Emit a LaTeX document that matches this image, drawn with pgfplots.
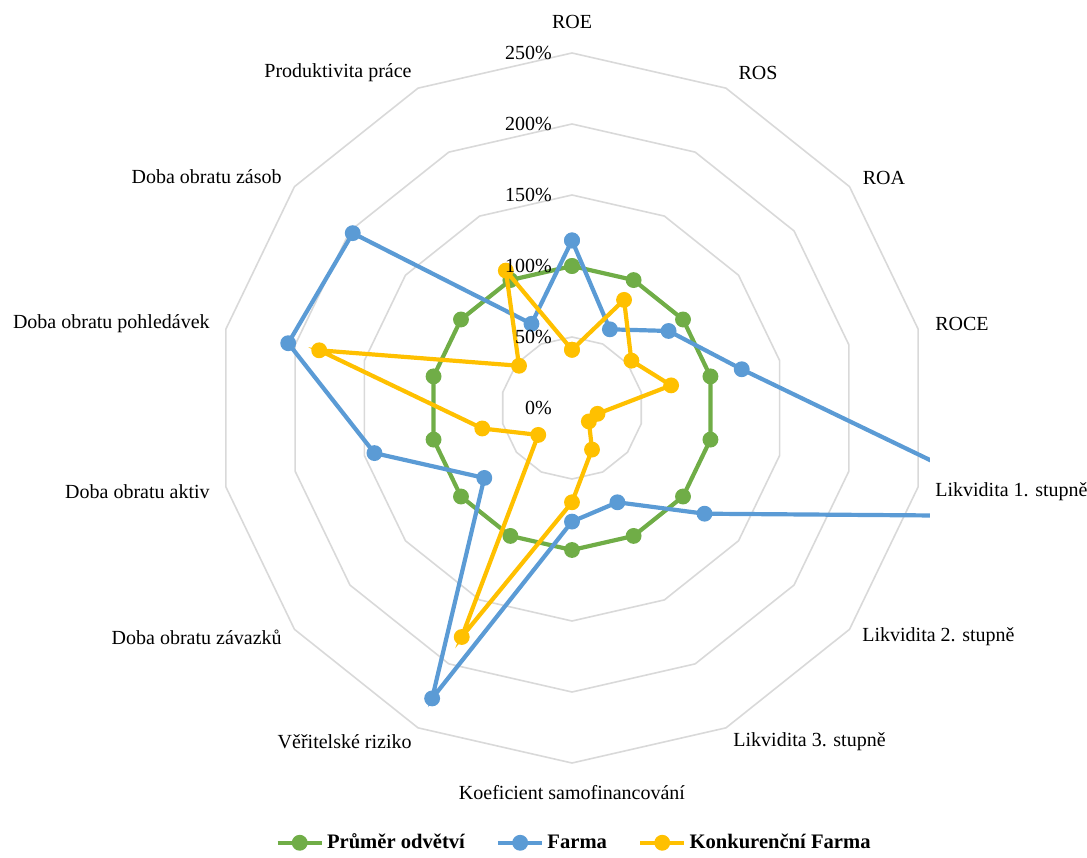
\documentclass[border=0pt]{standalone}
\usepackage{pgfplots}
\pgfplotsset{compat=1.18}
\usepackage{pgfplotstable}
\usepackage{fontspec}
\setmainfont{Liberation Serif}
\definecolor{cgreen}{HTML}{70AD47}
\definecolor{cblue}{HTML}{5B9BD5}
\definecolor{cyellow}{HTML}{FFC000}
\definecolor{cgrid}{HTML}{D9D9D9}

% angle (deg), Prumer odvetvi, Farma, Konkurencni Farma  (values in %)
\pgfplotstableread{
ang ind farma konk
90 100 118 41
64.2857 100 61.5 84.5
38.5714 100 87 53.5
12.8571 100 122.6 71.6
-12.8571 100 343 18.4
-38.5714 100 119.4 15.2
-64.2857 100 73.7 32.5
-90 100 80 66.4
-115.7143 100 227 179
-141.4286 100 79 30.4
-167.1429 100 142.7 64.8
167.1429 100 205 182.6
141.4286 100 197.5 47.7
115.7143 100 65.8 107.4
90 100 118 41
}\radar

\pgfplotstableread{
ang r50 r100 r150 r200 r250
90 50 100 150 200 250
64.2857 50 100 150 200 250
38.5714 50 100 150 200 250
12.8571 50 100 150 200 250
-12.8571 50 100 150 200 250
-38.5714 50 100 150 200 250
-64.2857 50 100 150 200 250
-90 50 100 150 200 250
-115.7143 50 100 150 200 250
-141.4286 50 100 150 200 250
-167.1429 50 100 150 200 250
167.1429 50 100 150 200 250
141.4286 50 100 150 200 250
115.7143 50 100 150 200 250
90 50 100 150 200 250
}\rings

\begin{document}
\begin{tikzpicture}
\begin{axis}[
  x=0.71pt, y=0.71pt,
  xmin=-252, xmax=252, ymin=-252, ymax=252,
  hide axis,
  clip mode=individual,
  legend columns=3,
  legend style={at={(0.5035,-0.1075)}, anchor=center, draw=none,
    font=\bfseries\fontsize{10.3}{12}\selectfont,
    nodes={inner sep=1.5pt},
    /tikz/every even column/.append style={column sep=14pt}},
  legend image code/.code={\draw[mark repeat=2,mark phase=2] plot coordinates {(0cm,0cm) (0.39cm,0cm) (0.78cm,0cm)};},
]
\coordinate (C) at (axis cs:0,0);
\foreach \c in {r50,r100,r150,r200,r250}{
  \addplot[data cs=polar, cgrid, line width=0.8pt, forget plot] table[x=ang, y=\c] {\rings};
}
\addplot[data cs=polar, cgreen, line width=2.1pt, mark=*, mark size=2.9pt] table[x=ang, y=ind] {\radar};
\addlegendentry{Průměr odvětví}
\addplot[data cs=polar, cblue, line width=2.1pt, mark=*, mark size=2.9pt] table[x=ang, y=farma] {\radar};
\addlegendentry{Farma}
\addplot[data cs=polar, cyellow, line width=2.1pt, mark=*, mark size=2.9pt] table[x=ang, y=konk] {\radar};
\addlegendentry{Konkurenční Farma}

\begin{scope}[font=\fontsize{10}{12}\selectfont, inner sep=0pt]
\node[anchor=east] at (axis cs:-14,0) {0\%};
\node[anchor=east] at (axis cs:-14,50) {50\%};
\node[anchor=east] at (axis cs:-14,100) {100\%};
\node[anchor=east] at (axis cs:-14,150) {150\%};
\node[anchor=east] at (axis cs:-14,200) {200\%};
\node[anchor=east] at (axis cs:-14,250) {250\%};

\node[anchor=center] at (axis cs:0,271.8) {ROE};
\node[anchor=center] at (axis cs:131,236) {ROS};
\node[anchor=center] at (axis cs:219.7,162) {ROA};
\node[anchor=west] at (axis cs:255.6,59.2) {ROCE};
\node[anchor=west] at (axis cs:255.6,-59.2) {Likvidita 1. stupně};
\node[anchor=west] at (axis cs:204.2,-161.3) {Likvidita 2. stupně};
\node[anchor=west] at (axis cs:113.4,-235.2) {Likvidita 3. stupně};
\node[anchor=center] at (axis cs:0,-271.1) {Koeficient samofinancování};
\node[anchor=east] at (axis cs:-112.7,-235.2) {Věřitelské riziko};
\node[anchor=east] at (axis cs:-204.2,-161.3) {Doba obratu závazků};
\node[anchor=east] at (axis cs:-254.9,-59.2) {Doba obratu aktiv};
\node[anchor=east] at (axis cs:-254.9,59.2) {Doba obratu pohledávek};
\node[anchor=east] at (axis cs:-204.2,162.7) {Doba obratu zásob};
\node[anchor=east] at (axis cs:-112.7,236) {Produktivita práce};
\end{scope}
\end{axis}
\pgfresetboundingbox
\path[use as bounding box] (C) ++(-286pt,204pt) rectangle ++(543.5pt,-428.5pt);
\end{tikzpicture}
\end{document}
